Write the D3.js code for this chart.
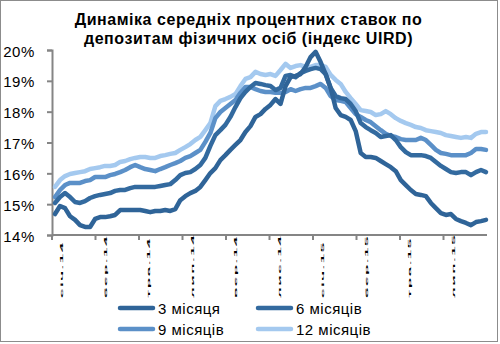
<!DOCTYPE html>
<html><head><meta charset="utf-8">
<script src="https://cdnjs.cloudflare.com/ajax/libs/d3/7.8.5/d3.min.js"></script>
<style>html,body{margin:0;padding:0;background:#fff}svg{display:block}</style>
</head><body>
<svg id="c" width="500" height="344"></svg>
<script>
const titleLines = ["Динаміка середніх процентних ставок по", "депозитам фізичних осіб (індекс UIRD)"];
const categories = ["січ.14","бер.14","тра.14","лип.14","вер.14","лис.14","січ.15","бер.15","тра.15","лип.15"];
const yTicks = [14,15,16,17,18,19,20];
const seriesNames = ["3 місяця","6 місяців","9 місяців","12 місяців"];
const seriesColors = ["#2f6498","#336a9f","#5b90c8","#a4c9ef"];

const m3 = [14.68,14.94,14.87,14.61,14.49,14.32,14.26,14.26,14.52,14.58,14.58,14.61,14.65,14.81,14.81,14.81,14.81,14.81,14.78,14.74,14.78,14.78,14.81,14.78,14.84,15.13,15.26,15.36,15.43,15.56,15.78,16.01,16.17,16.43,16.59,16.76,16.92,17.08,17.34,17.53,17.83,17.92,18.09,18.22,18.41,18.25,18.83,19.12,19.16,19.22,19.45,19.77,19.94,19.61,19.22,18.77,18.12,17.89,17.83,17.73,17.37,16.66,16.53,16.53,16.50,16.40,16.30,16.20,16.07,15.78,15.62,15.46,15.33,15.30,15.26,15.04,14.87,14.71,14.65,14.68,14.52,14.45,14.39,14.32,14.42,14.45,14.49];
const m6 = [15.04,15.23,15.36,15.23,15.07,15.04,15.10,15.20,15.26,15.30,15.33,15.36,15.43,15.46,15.46,15.52,15.56,15.56,15.56,15.56,15.56,15.59,15.62,15.65,15.78,15.94,16.01,16.04,16.14,16.27,16.50,16.89,17.24,17.40,17.57,17.83,18.15,18.44,18.64,18.80,18.93,18.90,18.86,18.83,18.70,18.77,19.16,19.19,19.12,19.25,19.32,19.38,19.42,19.38,19.22,18.77,18.51,18.44,18.41,18.25,18.02,17.63,17.50,17.40,17.31,17.18,17.21,17.24,17.08,16.85,16.69,16.59,16.59,16.59,16.56,16.50,16.37,16.24,16.14,16.04,16.01,16.04,16.04,15.94,16.04,16.11,16.04];
const m9 = [15.23,15.46,15.62,15.69,15.69,15.69,15.75,15.78,15.88,15.88,15.88,15.94,15.98,16.04,16.11,16.20,16.27,16.20,16.14,16.11,16.07,16.14,16.20,16.27,16.33,16.40,16.50,16.56,16.66,16.76,17.02,17.31,17.79,17.99,18.12,18.25,18.38,18.61,18.80,18.80,18.73,18.67,18.64,18.64,18.61,18.61,18.64,18.73,18.67,18.73,18.77,18.77,18.83,18.90,18.77,18.51,18.38,18.35,18.31,18.12,17.92,17.83,17.73,17.66,17.53,17.40,17.28,17.21,17.18,17.11,17.08,17.08,17.08,17.15,17.08,16.92,16.76,16.66,16.63,16.59,16.59,16.59,16.59,16.66,16.79,16.79,16.76];
const m12 = [15.56,15.78,15.91,15.98,16.01,16.04,16.07,16.14,16.17,16.20,16.24,16.24,16.27,16.37,16.40,16.46,16.50,16.53,16.53,16.50,16.50,16.56,16.59,16.63,16.66,16.76,16.85,16.95,17.08,17.18,17.40,17.63,18.18,18.35,18.41,18.48,18.57,18.83,19.06,19.12,19.29,19.22,19.19,19.22,19.16,19.35,19.55,19.42,19.48,19.51,19.45,19.45,19.51,19.51,19.45,19.19,19.03,18.90,18.64,18.44,18.25,18.05,18.02,17.99,17.89,17.92,18.02,17.92,17.79,17.70,17.63,17.57,17.50,17.47,17.40,17.37,17.34,17.31,17.24,17.21,17.18,17.15,17.18,17.15,17.28,17.34,17.34];

const series = [m3, m6, m9, m12];
const svg = d3.select("#c");
const FONT = "'Liberation Sans', Arial, sans-serif";

// border
svg.append("rect").attr("x",0.5).attr("y",0.5).attr("width",497).attr("height",341)
  .attr("fill","none").attr("stroke","#8c8c8c").attr("stroke-width",1);

// title
svg.append("g").selectAll("text").data(titleLines).join("text")
  .attr("x",248.5).attr("y",(d,i)=>24.5+i*19.5).attr("text-anchor","middle")
  .attr("font-family",FONT).attr("font-weight","bold").attr("font-size",16)
  .attr("letter-spacing","0.55px")
  .attr("fill","#000").text(d=>d);

const x0 = 52, x1 = 487, yTop = 50, yBot = 235;
const y = d3.scaleLinear().domain([14,20]).range([yBot,yTop]);
const band = d3.scaleBand().domain(categories).range([x0,x1]).paddingInner(0).paddingOuter(0);
const xi = d3.scaleLinear().domain([0, m3.length-1]).range([55, 486]);

// y axis
const yAxis = d3.axisLeft(y).tickValues(yTicks).tickFormat(d=>d+"%").tickSize(5).tickPadding(12);
const gy = svg.append("g").attr("transform",`translate(${x0},0)`).call(yAxis);
gy.select(".domain").attr("stroke","#858585").attr("stroke-width",2);
gy.selectAll(".tick line").attr("stroke","#858585").attr("stroke-width",2);
gy.selectAll(".tick text").attr("font-family",FONT).attr("font-size",15).attr("letter-spacing","0.6px")
  .attr("fill","#000").attr("dy","0.4em");

// x axis with ticks at band boundaries
const gx = svg.append("g").attr("transform",`translate(0,${yBot})`);
gx.append("line").attr("x1",x0).attr("x2",x1).attr("y1",0).attr("y2",0).attr("stroke","#858585").attr("stroke-width",2);
gx.selectAll("line.t").data(categories).join("line").attr("class","t")
  .attr("x1",d=>band(d)).attr("x2",d=>band(d)).attr("y1",0).attr("y2",5)
  .attr("stroke","#858585").attr("stroke-width",2);
gx.selectAll("text").data(categories).join("text")
  .attr("transform",d=>`translate(${band(d)+11},${298-235}) rotate(-90) scale(1,0.2)`)
  .attr("font-family",FONT).attr("font-size",17).attr("font-weight","bold")
  .attr("letter-spacing","1.5px").attr("fill","#000").text(d=>d);

// lines
const line = d3.line().x((d,i)=>xi(i)).y(d=>y(d)).curve(d3.curveLinear);
const order = [3,2,1,0];
svg.append("g").selectAll("path").data(order).join("path")
  .attr("d",k=>line(series[k])).attr("fill","none")
  .attr("stroke",k=>seriesColors[k]).attr("stroke-width",4.5)
  .attr("stroke-linejoin","round").attr("stroke-linecap","round");

// legend
const legPos = [[120,308],[258,308],[120,329],[258,329]];
const lg = svg.append("g");
seriesNames.forEach((n,k)=>{
  const [lx,ly] = legPos[k];
  lg.append("line").attr("x1",lx).attr("x2",lx+33).attr("y1",ly).attr("y2",ly)
    .attr("stroke",seriesColors[k]).attr("stroke-width",4.5).attr("stroke-linecap","round");
  lg.append("text").attr("x",lx+38).attr("y",ly+5.5).attr("font-family",FONT)
    .attr("font-size",15).attr("letter-spacing","0.5px").attr("fill","#000").text(n);
});
</script>
</body></html>
